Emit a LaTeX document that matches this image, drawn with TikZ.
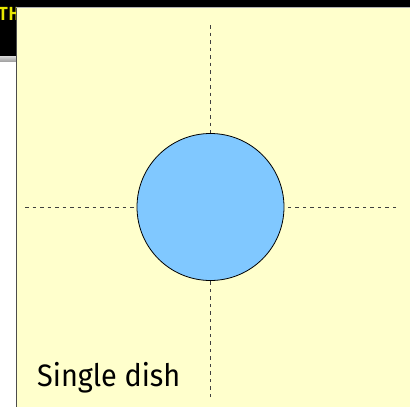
\documentclass[tikz,border=0pt]{standalone}
\usepackage{fontspec}
\setsansfont{Fira Sans}
\setmonofont{DejaVu Sans Mono}
\definecolor{panelyellow}{HTML}{FFFFCC}
\definecolor{dishblue}{HTML}{80C8FF}
\definecolor{titleyellow}{HTML}{E8E800}

\begin{document}
\begin{tikzpicture}[x=1pt,y=-1pt,
  axis/.style={dash pattern=on 3.5pt off 4pt,line width=0.9pt,black!75}]
  \useasboundingbox (0,0) rectangle (410,407);
  % window frame
  \fill[black] (0,0) rectangle (410,7);
  \fill[black] (0,0) rectangle (16,56);
  \shade[top color=black!15,bottom color=black!40] (0,56) rectangle (16,62);
  \fill[white] (0,62) rectangle (16,407);
  \begin{scope}
    \clip (0,0) rectangle (16,56);
    \node[anchor=north west,inner sep=0pt,text=titleyellow,font=\ttfamily\bfseries\fontsize{18}{18}\selectfont] (title) at (-2.5,7) {TH};
  \end{scope}
  % panel
  \fill[panelyellow] (16,7) rectangle (410,407);
  \draw[black!70,line width=0.8pt] (16,7) -- (16,407);
  \draw[black!30,line width=0.5pt] (16,7) -- (410,7);
  % dish and axes
  \node[circle,draw,fill=dishblue,minimum size=147pt,inner sep=0pt,line width=0.8pt] (dish) at (210.5,207) {};
  \coordinate (top) at (210.5,25);
  \coordinate (bottom) at (210.5,397);
  \coordinate (left) at (25,207);
  \coordinate (right) at (396,207);
  \draw[axis] (top) -- (dish.north);
  \draw[axis] (bottom) -- (dish.south);
  \draw[axis] (left) -- (dish.west);
  \draw[axis] (right) -- (dish.east);
  \node[anchor=base west,inner sep=0pt,font=\sffamily\fontsize{31}{31}\selectfont,xscale=0.93] (label) at (37,386) {Single dish};
\end{tikzpicture}
\end{document}
